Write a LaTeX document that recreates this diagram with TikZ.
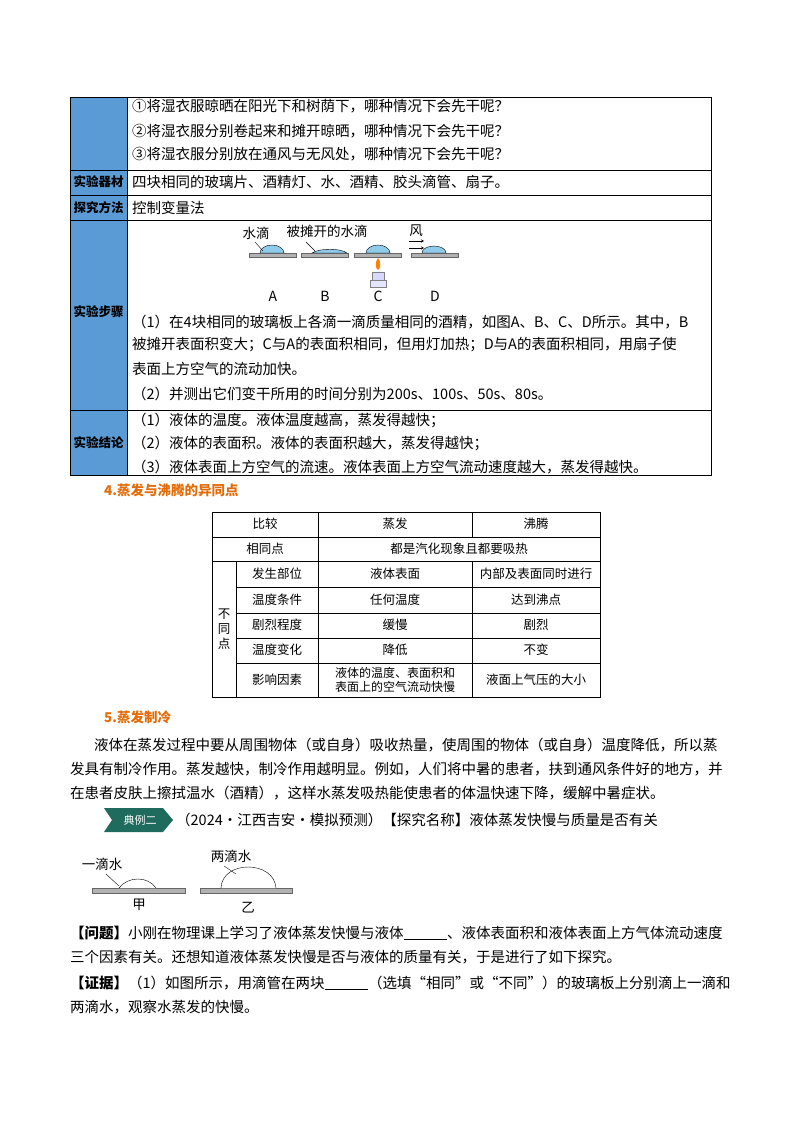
\documentclass[tikz,border=0pt]{standalone}
\usepackage{fontspec}
\setmainfont{Noto Sans CJK SC}
\usetikzlibrary{positioning}
\definecolor{hdblue}{HTML}{5B9BD5}
\definecolor{secorange}{HTML}{E36C09}
\definecolor{badgegreen}{HTML}{1F6B5E}
\definecolor{dropblue}{HTML}{8FCBEA}
\begin{document}
\begin{tikzpicture}[x=1pt,y=-1pt,
  txt/.style={anchor=west,inner sep=0pt,font=\fontsize{14.5}{17}\selectfont},
  hd/.style={font=\fontsize{12.5}{15}\selectfont\bfseries,inner sep=0pt},
  cell/.style={inner sep=0pt,font=\fontsize{13.5}{16}\selectfont,align=center},
  tcell/.style={cell,font=\fontsize{12.5}{15}\selectfont},
  plate/.style={fill=gray!60,draw=gray!80!black,line width=0.4pt},
  drop/.style={fill=dropblue,draw=black,line width=0.4pt}]
\useasboundingbox (0,0) rectangle (800,1132);
% top table
\fill[hdblue] (70,97) rectangle (127,475);
\draw[line width=0.6pt] (70,97) rectangle (711,475);
\draw (127,97) -- (127,475);
\foreach \y in {170,195,220,410} \draw (70,\y) -- (711,\y);
\node[hd] (h1) at (98.5,182) {实验器材};
\node[hd] (h2) at (98.5,208) {探究方法};
\node[hd] (h3) at (98.5,312) {实验步骤};
\node[hd] (h4) at (98.5,443) {实验结论};
\node[txt] (q1) at (132,106) {①将湿衣服晾晒在阳光下和树荫下，哪种情况下会先干呢？};
\node[txt] (q2) at (132,131) {②将湿衣服分别卷起来和摊开晾晒，哪种情况下会先干呢？};
\node[txt] (q3) at (132,154) {③将湿衣服分别放在通风与无风处，哪种情况下会先干呢？};
\node[txt] (mat) at (132,182) {四块相同的玻璃片、酒精灯、水、酒精、胶头滴管、扇子。};
\node[txt] (meth) at (132,208) {控制变量法};
% figure A-D
\foreach \x/\l in {249/A,301/B,354/C,411/D}{
  \fill[plate] (\x,253) rectangle ++(47,4);
  \node[cell,font=\fontsize{14}{16}\selectfont\rmfamily] at (\x+24,296) {\l};}
\draw[drop] (260,253) arc[start angle=180,end angle=360,x radius=12,y radius=8] -- cycle;
\draw[drop] (312,253) .. controls (320,248) and (340,248) .. (347,253) -- cycle;
\draw[drop] (366,253) arc[start angle=180,end angle=360,x radius=12,y radius=8] -- cycle;
\draw[drop] (422,253) arc[start angle=180,end angle=360,x radius=12,y radius=7] -- cycle;
\node[cell] (wd) at (256,233) {水滴};
\node[cell] (twd) at (327,231) {被摊开的水滴};
\draw (255,242) -- (263,251);
\draw (306,242) -- (315,251);
\node[cell] (wind) at (416,231) {风};
\draw[->,>=stealth] (409,241) -- (424,241);
\draw[->,>=stealth] (409,248) -- (424,248);
\fill[orange] (378,258) .. controls (374,264) and (376,269) .. (378,270) .. controls (380,269) and (382,264) .. (378,258);
\draw[fill=blue!15,draw=gray] (372,272) rectangle (384,280);
\draw[fill=blue!10,draw=gray] (370,280) rectangle (386,287);
\node[txt] (s1) at (132,322) {（1）在4块相同的玻璃板上各滴一滴质量相同的酒精，如图A、B、C、D所示。其中，B};
\node[txt] (s2) at (132,345) {被摊开表面积变大；C与A的表面积相同，但用灯加热；D与A的表面积相同，用扇子使};
\node[txt] (s3) at (132,369) {表面上方空气的流动加快。};
\node[txt] (s4) at (132,394) {（2）并测出它们变干所用的时间分别为200s、100s、50s、80s。};
\node[txt] (c1) at (132,420) {（1）液体的温度。液体温度越高，蒸发得越快；};
\node[txt] (c2) at (132,443) {（2）液体的表面积。液体的表面积越大，蒸发得越快；};
\node[txt] (c3) at (132,467) {（3）液体表面上方空气的流速。液体表面上方空气流动速度越大，蒸发得越快。};
% section 4
\node[txt,text=secorange,font=\fontsize{13.5}{16}\selectfont\bfseries] (sec4) at (104,490) {4.蒸发与沸腾的异同点};
\draw (212,512) rectangle (600,697);
\foreach \y in {537,561} \draw (212,\y) -- (600,\y);
\foreach \y in {587,613,638,663} \draw (236,\y) -- (600,\y);
\draw (236,561) -- (236,697);
\draw (318,512) -- (318,697);
\draw (472,512) -- (472,537);
\draw (472,561) -- (472,697);
\node[tcell] at (265,524) {比较};
\node[tcell] at (395,524) {蒸发};
\node[tcell] at (536,524) {沸腾};
\node[tcell] at (265,549) {相同点};
\node[tcell] at (459,549) {都是汽化现象且都要吸热};
\node[tcell] at (224,629) {不\\同\\点};
\foreach \y/\a/\b/\c in {574/发生部位/液体表面/内部及表面同时进行,600/温度条件/任何温度/达到沸点,625/剧烈程度/缓慢/剧烈,650/温度变化/降低/不变}{
  \node[tcell] at (277,\y) {\a};
  \node[tcell] at (395,\y) {\b};
  \node[tcell] at (536,\y) {\c};}
\node[tcell] at (277,680) {影响因素};
\node[tcell,font=\fontsize{12}{14}\selectfont] at (395,680) {液体的温度、表面积和\\表面上的空气流动快慢};
\node[tcell] at (536,680) {液面上气压的大小};
% section 5
\node[txt,text=secorange,font=\fontsize{13.5}{16}\selectfont\bfseries] (sec5) at (104,717) {5.蒸发制冷};
\node[txt] (p1) at (94,745) {液体在蒸发过程中要从周围物体（或自身）吸收热量，使周围的物体（或自身）温度降低，所以蒸};
\node[txt] (p2) at (70,769) {发具有制冷作用。蒸发越快，制冷作用越明显。例如，人们将中暑的患者，扶到通风条件好的地方，并};
\node[txt] (p3) at (70,793) {在患者皮肤上擦拭温水（酒精），这样水蒸发吸热能使患者的体温快速下降，缓解中暑症状。};
\fill[badgegreen] (104,808) -- (163,808) -- (173,820) -- (163,832) -- (104,832) -- (112,820) -- cycle;
\node[cell,text=white,font=\fontsize{11}{13}\selectfont] (badge) at (140,820) {典例二};
\node[txt] (ex) at (176,820) {（2024·江西吉安·模拟预测）【探究名称】液体蒸发快慢与质量是否有关};
% drops
\fill[plate] (92,888) rectangle (185,893);
\fill[plate] (200,888) rectangle (292,893);
\draw[fill=white] (119,888) .. controls (128,876) and (148,876) .. (156,888);
\draw[fill=white] (221,888) .. controls (222,860) and (274,860) .. (276,888);
\node[cell] (one) at (102,864) {一滴水};
\node[cell] (two) at (231,856) {两滴水};
\draw (106,874) -- (119,886);
\draw (224,866) -- (236,874);
\node[cell] (jia) at (139,905) {甲};
\node[cell] (yi) at (248,908) {乙};
\node[txt] (t1) at (70,933) {\textbf{【问题】}小刚在物理课上学习了液体蒸发快慢与液体\underline{\hspace{3em}}、液体表面积和液体表面上方气体流动速度};
\node[txt] (t2) at (70,957) {三个因素有关。还想知道液体蒸发快慢是否与液体的质量有关，于是进行了如下探究。};
\node[txt] (t3) at (70,983) {\textbf{【证据】}（1）如图所示，用滴管在两块\underline{\hspace{3em}}（选填“相同”或“不同”）的玻璃板上分别滴上一滴和};
\node[txt] (t4) at (70,1007) {两滴水，观察水蒸发的快慢。};
\end{tikzpicture}
\end{document}
